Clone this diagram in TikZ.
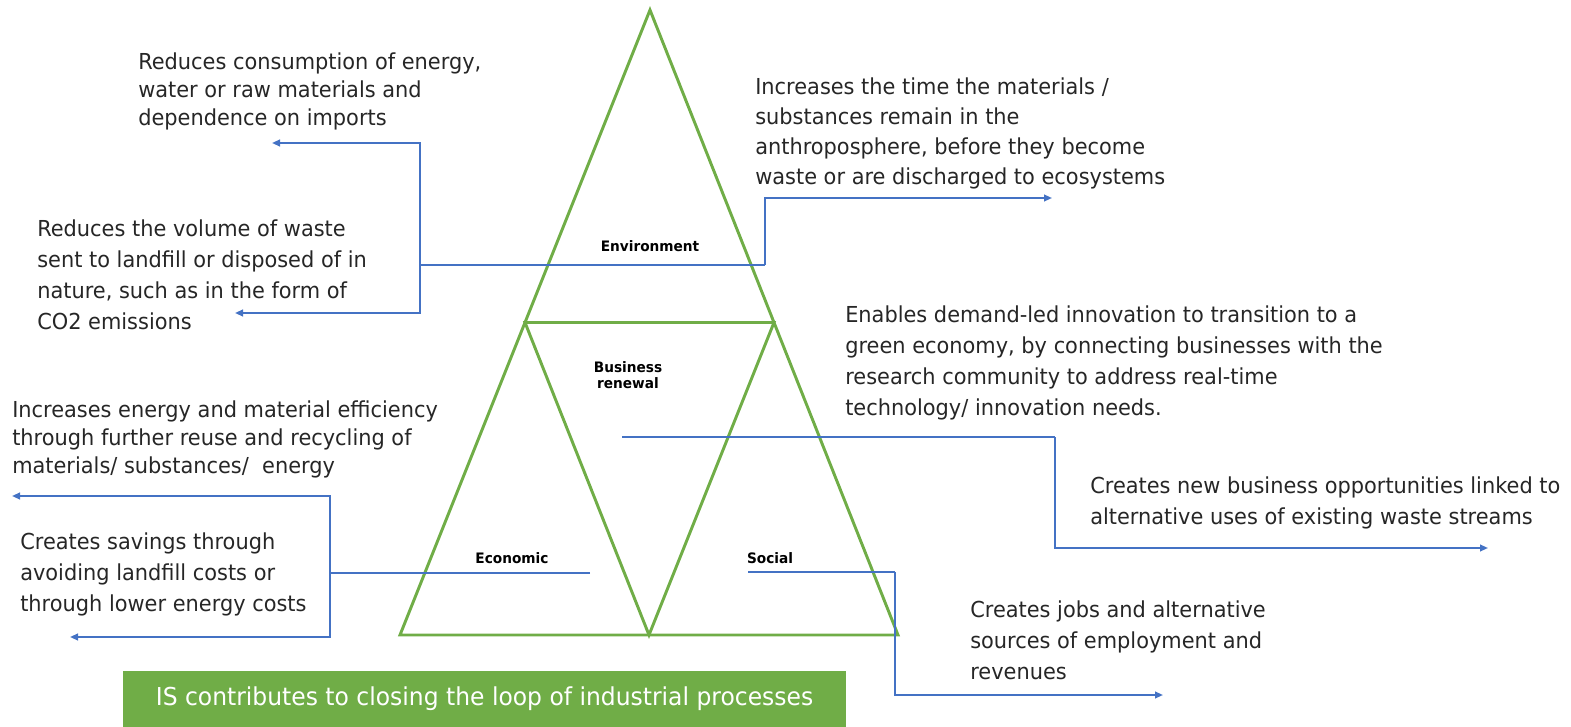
\documentclass[tikz,border=0pt]{standalone}
\usepackage{fontspec}
\setmainfont{DejaVu Sans}[FakeStretch=0.95]
\usetikzlibrary{arrows.meta,positioning,calc}
\definecolor{isgreen}{HTML}{70AD47}
\definecolor{isblue}{HTML}{4472C4}
\tikzset{
  effect/.style={anchor=north west,inner sep=0pt,align=left,text=black!85,
    font=\fontsize{16.5}{22.5}\selectfont},
  tight/.style={font=\fontsize{16.5}{21}\selectfont},
  loose/.style={font=\fontsize{16.5}{23.2}\selectfont},
  pillar/.style={font=\bfseries\fontsize{10.8}{12}\selectfont,align=center,inner sep=1pt},
  link/.style={isblue,line width=1.4pt},
  linkto/.style={link,-{Triangle[length=6pt,width=5pt]}},
  side/.style={isgreen,line width=2.2pt},
}

\begin{document}
\begin{tikzpicture}[x=0.75pt,y=-0.75pt]
  \useasboundingbox (0,0) rectangle (1571,727);

  % triangle
  \coordinate (top) at (650,10);
  \coordinate (bl) at (400,635);
  \coordinate (br) at (898,635);
  \coordinate (ml) at ($(top)!0.5!(bl)$);
  \coordinate (mr) at ($(top)!0.5!(br)$);
  \coordinate (bm) at ($(bl)!0.5!(br)$);
  \draw[side] (top)--(br)--(bl)--cycle;
  \draw[side] (ml)--(mr)--(bm)--cycle;

  \node[pillar] (env) at (650,246) {Environment};
  \node[pillar] (biz) at (628,375) {Business\\renewal};
  \node[pillar] (eco) at (512,558) {Economic};
  \node[pillar] (soc) at (770,558) {Social};

  % effects
  \node[effect,tight] (cons) at (138,53) {Reduces consumption of energy,\\water or raw materials and\\dependence on imports};
  \node[effect,loose] (waste) at (37,220) {Reduces the volume of waste\\sent to landfill or disposed of in\\nature, such as in the form of\\CO2 emissions};
  \node[effect] (time) at (755,78) {Increases the time the materials /\\substances remain in the\\anthroposphere, before they become\\waste or are discharged to ecosystems};
  \node[effect,loose] (innov) at (845,306) {Enables demand-led innovation to transition to a\\green economy, by connecting businesses with the\\research community to address real-time\\technology/ innovation needs.};
  \node[effect,tight] (effic) at (12,401) {Increases energy and material efficiency\\through further reuse and recycling of\\materials/ substances/\ \ energy};
  \node[effect,loose] (opps) at (1090,477) {Creates new business opportunities linked to\\alternative uses of existing waste streams};
  \node[effect,loose] (save) at (20,533) {Creates savings through\\avoiding landfill costs or\\through lower energy costs};
  \node[effect,loose] (jobs) at (970,601) {Creates jobs and alternative\\sources of employment and\\revenues};

  % connectors
  \coordinate (envL) at (420,265);
  \coordinate (envR) at (765,265);
  \coordinate (consEnd) at (272,143);
  \coordinate (wasteEnd) at (235,313);
  \coordinate (timeEnd) at (1052,198);
  \draw[link] (envL) -- (envR);
  \draw[linkto] (envL) |- (consEnd);
  \draw[linkto] (envL) |- (wasteEnd);
  \draw[linkto] (envR) |- (timeEnd);

  \coordinate (bizL) at (622,437);
  \coordinate (bizR) at (1055,437);
  \coordinate (oppsEnd) at (1488,548);
  \draw[link] (bizL) -- (bizR);
  \draw[linkto] (bizR) |- (oppsEnd);

  \coordinate (ecoR) at (590,573);
  \coordinate (ecoL) at (330,573);
  \coordinate (efficEnd) at (12,496);
  \coordinate (saveEnd) at (70,637);
  \draw[link] (ecoR) -- (ecoL);
  \draw[linkto] (ecoL) |- (efficEnd);
  \draw[linkto] (ecoL) |- (saveEnd);

  \coordinate (socL) at (748,572);
  \coordinate (socR) at (895,572);
  \coordinate (jobsEnd) at (1163,695);
  \draw[link] (socL) -- (socR);
  \draw[linkto] (socR) |- (jobsEnd);

  % banner
  \node[fill=isgreen,text=white,minimum width=542.25pt,minimum height=42pt,inner sep=0pt,
    font=\fontsize{18.5}{20}\selectfont] (loop) at (484.5,699)
    {IS contributes to closing the loop of industrial processes};
\end{tikzpicture}
\end{document}
